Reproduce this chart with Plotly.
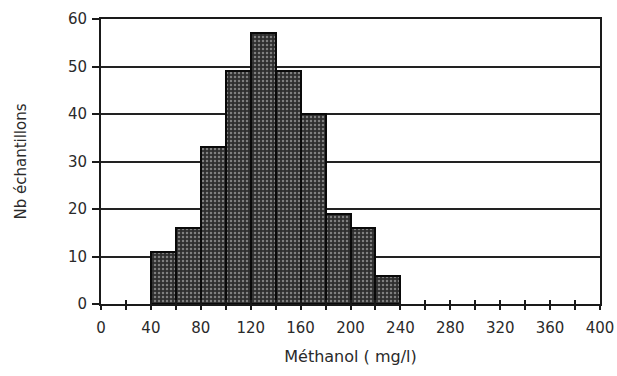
import plotly.graph_objects as go

bin_start = [40, 60, 80, 100, 120, 140, 160, 180, 200, 220]
bin_width = 20
counts = [11, 16, 33, 49, 57, 49, 40, 19, 16, 6]
x_ticks = [0, 40, 80, 120, 160, 200, 240, 280, 320, 360, 400]
y_ticks = [0, 10, 20, 30, 40, 50, 60]

centers = [s + bin_width / 2 for s in bin_start]
FONT = "DejaVu Sans"
INK = "#1a1a1a"
TXT = "#2a2a2a"

fig = go.Figure()
fig.add_trace(go.Bar(
    x=centers, y=counts, width=[bin_width] * len(counts),
    marker=dict(
        color="#333333",
        line=dict(color="#0a0a0a", width=2),
        pattern=dict(shape=".", bgcolor="#2e2e2e", fgcolor="#cfcfcf",
                     size=4, solidity=0.3, fillmode="overlay"),
    ),
    showlegend=False, hoverinfo="skip",
))
fig.add_trace(go.Scatter(x=[0, 400], y=[0, 0], xaxis="x2", mode="markers",
                         marker=dict(opacity=0), showlegend=False, hoverinfo="skip"))

fig.update_layout(
    width=617, height=376,
    margin=dict(l=101, r=17, t=19, b=72, autoexpand=False),
    paper_bgcolor="white", plot_bgcolor="white",
    font=dict(family=FONT, color=TXT, size=15),
    bargap=0,
    xaxis=dict(
        range=[0, 400], tickvals=x_ticks, ticks="outside", ticklen=4,
        tickwidth=1.5, tickcolor=INK, automargin=False,
        minor=dict(dtick=20, tick0=0, ticks="outside", ticklen=4, tickwidth=1.5, tickcolor=INK),
        showline=True, linecolor=INK, linewidth=1.8, mirror=True,
        showgrid=False, zeroline=False, ticklabelstandoff=5,
        title=dict(text="Méthanol ( mg/l)", font=dict(size=16), standoff=15),
        tickfont=dict(size=15),
    ),
    xaxis2=dict(
        overlaying="x", range=[0, 400], side="bottom", automargin=False,
        tickvals=list(range(0, 401, 20)), ticks="inside", ticklen=4,
        tickwidth=1.5, tickcolor=INK, showticklabels=False,
        showgrid=False, zeroline=False, showline=False,
    ),
    yaxis=dict(
        range=[0, 60], tickvals=y_ticks, ticks="outside", ticklen=7,
        tickwidth=1.5, tickcolor=INK, automargin=False,
        showline=True, linecolor=INK, linewidth=1.8, mirror=True,
        showgrid=True, gridcolor="#222222", gridwidth=1.6,
        zeroline=False, ticklabelstandoff=2,
        title=dict(text="Nb échantillons", font=dict(size=15), standoff=38),
        tickfont=dict(size=15),
    ),
)

fig.write_html("out.html")
